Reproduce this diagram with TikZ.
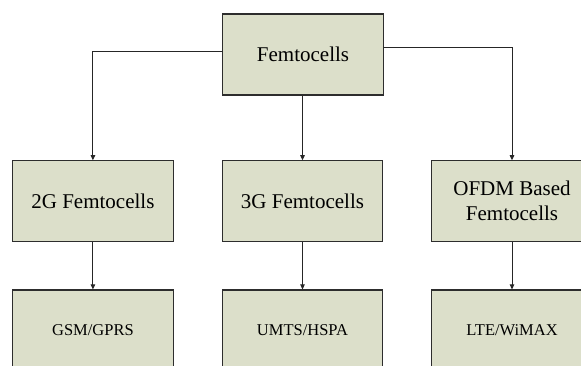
\documentclass[tikz,border=0pt]{standalone}
\usepackage{fontspec}
\setmainfont{Liberation Serif}
\usetikzlibrary{arrows.meta}
\definecolor{boxfill}{RGB}{220,223,202}
\definecolor{boxline}{RGB}{45,45,45}
\tikzset{
  fbox/.style={draw=boxline, fill=boxfill, line width=1.2pt, minimum width=160.5pt, minimum height=81pt, inner sep=0pt, align=center, font=\fontsize{21}{25}\selectfont},
  leafbox/.style={fbox, font=\fontsize{16.5}{20}\selectfont},
  conn/.style={draw=black!85, line width=0.9pt, -{Triangle[length=5pt,width=4.5pt]}}
}
\begin{document}
\begin{tikzpicture}[x=1pt,y=-1pt]
\clip (0,0) rectangle (581,365);
\fill[white] (0,0) rectangle (581,365);
\node[fbox] (top) at (303,54.5) {Femtocells};
\node[fbox] (g2) at (92.9,201.3) {2G Femtocells};
\node[fbox] (g3) at (302.5,201.3) {3G Femtocells};
\node[fbox] (ofdm) at (512,201.3) {OFDM Based\\Femtocells};
\node[leafbox] (gsm) at (92.9,330.5) {GSM/GPRS};
\node[leafbox] (umts) at (302.5,330.5) {UMTS/HSPA};
\node[leafbox] (lte) at (512,330.5) {LTE/WiMAX};
\coordinate (tl) at (222.7,51);
\coordinate (tr) at (383.3,47);
\draw[conn] (tl) -| (g2.north);
\draw[conn] (tr) -| (ofdm.north);
\draw[conn] (top.south -| g3.north) -- (g3.north);
\draw[conn] (g2.south) -- (gsm.north);
\draw[conn] (g3.south) -- (umts.north);
\draw[conn] (ofdm.south) -- (lte.north);
\end{tikzpicture}
\end{document}
